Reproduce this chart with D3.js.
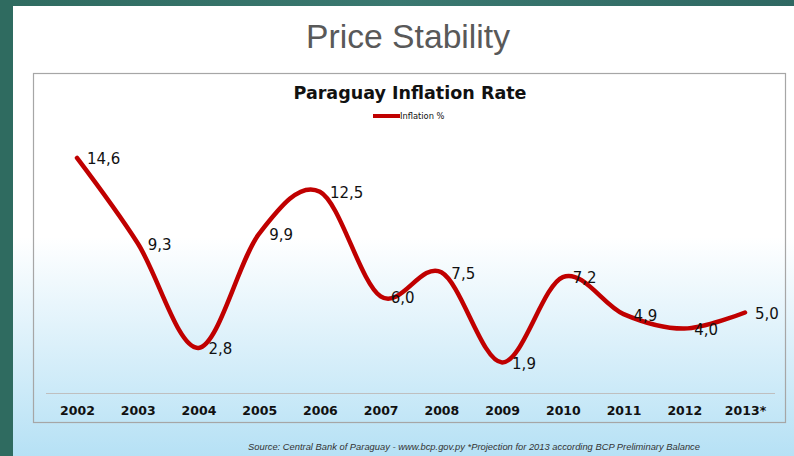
<!DOCTYPE html>
<html><head><meta charset="utf-8">
<script src="https://cdn.jsdelivr.net/npm/d3@7"></script>
<style>html,body{margin:0;padding:0;background:#fff;}svg{display:block;}</style>
</head><body>
<svg id="c" width="794" height="456"></svg>
<script>
const years = ["2002","2003","2004","2005","2006","2007","2008","2009","2010","2011","2012","2013*"];
const inflation = [14.6, 9.3, 2.8, 9.9, 12.5, 6.0, 7.5, 1.9, 7.2, 4.9, 4.0, 5.0];
const labels = ["14,6","9,3","2,8","9,9","12,5","6,0","7,5","1,9","7,2","4,9","4,0","5,0"];
const seriesName = "Inflation %";

const svg = d3.select("#c");
const defs = svg.append("defs");
const bg = defs.append("linearGradient").attr("id","bg").attr("x1",0).attr("y1",0).attr("x2",0).attr("y2",1);
bg.append("stop").attr("offset","0%").attr("stop-color","#ffffff");
bg.append("stop").attr("offset","52%").attr("stop-color","#ffffff");
bg.append("stop").attr("offset","100%").attr("stop-color","#b6e1f5");
const topGrad = defs.append("linearGradient").attr("id","topbar").attr("x1",0).attr("y1",0).attr("x2",1).attr("y2",0);
topGrad.append("stop").attr("offset","0%").attr("stop-color","#2f6b60");
topGrad.append("stop").attr("offset","50%").attr("stop-color","#3a7870");
topGrad.append("stop").attr("offset","100%").attr("stop-color","#2f6862");

svg.append("rect").attr("width",794).attr("height",456).attr("fill","url(#bg)");
svg.append("rect").attr("x",0).attr("y",0).attr("width",794).attr("height",6).attr("fill","url(#topbar)");
svg.append("rect").attr("x",0).attr("y",0).attr("width",13).attr("height",456).attr("fill","#2f6b60");

svg.append("text").attr("x",408).attr("y",48).attr("text-anchor","middle")
  .attr("font-family","Liberation Sans, Arial, sans-serif").attr("font-size",33.5).attr("fill","#595959")
  .attr("textLength",204).attr("lengthAdjust","spacingAndGlyphs")
  .text("Price Stability");

// chart box
svg.append("rect").attr("x",33.5).attr("y",73.5).attr("width",752).attr("height",349)
  .attr("fill","none").attr("stroke","#a6a6a6").attr("stroke-width",1.2);

const f = "DejaVu Sans, sans-serif";
svg.append("text").attr("x",410).attr("y",99).attr("text-anchor","middle")
  .attr("font-family",f).attr("font-weight","bold").attr("font-size",17.5).attr("fill","#111")
  .attr("textLength",233).attr("lengthAdjust","spacingAndGlyphs")
  .text("Paraguay Inflation Rate");

// legend
svg.append("line").attr("x1",373).attr("x2",400).attr("y1",116).attr("y2",116)
  .attr("stroke","#c00000").attr("stroke-width",4);
svg.append("text").attr("x",400).attr("y",119).attr("font-family",f).attr("font-size",8.3).attr("fill","#111")
  .text(seriesName);

const x = d3.scalePoint().domain(years).range([77, 745]);
const y = d3.scaleLinear().domain([0, 15]).range([393, 151.5]);

// axis
const axis = svg.append("g").attr("transform","translate(0,393)")
  .call(d3.axisBottom(x).tickSize(0).tickPadding(13));
axis.select(".domain").remove();
svg.append("line").attr("x1",46).attr("x2",775).attr("y1",393.5).attr("y2",393.5).attr("stroke","#bfbfbf").attr("stroke-width",1);
axis.selectAll("text").attr("font-family",f).attr("font-weight","bold").attr("font-size",12.5).attr("fill","#111");

const data = years.map((yr,i)=>({yr, v: inflation[i], l: labels[i]}));
const line = d3.line().x(d=>x(d.yr)).y(d=>y(d.v)).curve(d3.curveCatmullRom.alpha(0));
svg.append("path").datum(data).attr("d",line).attr("fill","none")
  .attr("stroke","#c00000").attr("stroke-width",4.5).attr("stroke-linecap","round");

svg.append("g").selectAll("text").data(data).join("text")
  .attr("x",d=>x(d.yr)+10).attr("y",d=>y(d.v)+1).attr("dy","0.36em")
  .attr("font-family",f).attr("font-size",15).attr("fill","#111")
  .text(d=>d.l);

svg.append("text").attr("x",474).attr("y",450).attr("text-anchor","middle")
  .attr("font-family","Liberation Sans, Arial, sans-serif").attr("font-style","italic").attr("font-size",8.6).attr("fill","#333")
  .attr("textLength",452).attr("lengthAdjust","spacingAndGlyphs")
  .text("Source: Central Bank of Paraguay - www.bcp.gov.py *Projection for 2013 according BCP Preliminary Balance");
</script>
</body></html>
